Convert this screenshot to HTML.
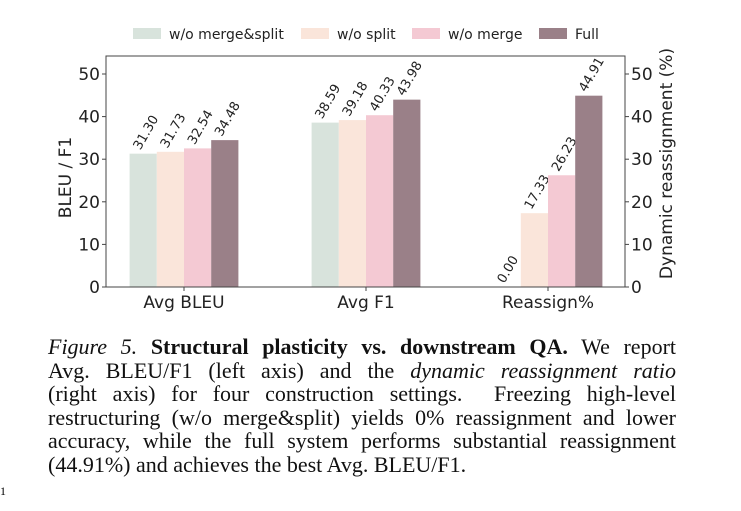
<!DOCTYPE html>
<html><head><meta charset="utf-8"><style>
body{margin:0;width:741px;height:511px;background:#fff;overflow:hidden;position:relative;font-family:"DejaVu Sans","Liberation Sans",sans-serif}
#cap{position:absolute;left:48px;top:335px;width:628px;font-family:"Liberation Serif",serif;font-size:22px;line-height:23.6px;color:#111}
#cap div{text-align:justify;text-align-last:justify;white-space:nowrap}
#cap div.last{text-align-last:left}
</style></head><body>
<svg id="chart" width="741" height="330" style="position:absolute;left:0;top:0" font-family="DejaVu Sans, Liberation Sans, sans-serif"></svg>
<div id="cap">
<div><i>Figure 5.</i> <b>Structural plasticity vs. downstream QA.</b> We report</div>
<div>Avg. BLEU/F1 (left axis) and the <i>dynamic reassignment ratio</i></div>
<div>(right axis) for four construction settings. &nbsp;Freezing high-level</div>
<div>restructuring (w/o merge&amp;split) yields 0% reassignment and lower</div>
<div>accuracy, while the full system performs substantial reassignment</div>
<div class="last">(44.91%) and achieves the best Avg. BLEU/F1.</div>
</div>
<div style="position:absolute;left:0;top:484px;font-family:'Liberation Serif',serif;font-size:12px">1</div>
<script>
const categories=["Avg BLEU","Avg F1","Reassign%"];
const seriesNames=["w/o merge&split","w/o split","w/o merge","Full"];
const s0=[31.30,38.59,0.00];
const s1=[31.73,39.18,17.33];
const s2=[32.54,40.33,26.23];
const s3=[34.48,43.98,44.91];
const yTicks=[0,10,20,30,40,50];
const colors=["#d8e3dc","#fae5da","#f4c9d3","#9a8088"];
const series=[s0,s1,s2,s3];
const NS="http://www.w3.org/2000/svg";
const svg=document.getElementById('chart');
const L=106,R=625,Y0=287,PX=(287-74)/50,Ytop=56;
const y=v=>Y0-v*PX;
const gc=i=>184+i*182;
const bw=27.2;
function mk(t,a,p){const e=document.createElementNS(NS,t);for(const k in a)e.setAttribute(k,a[k]);(p||svg).appendChild(e);return e;}
series.forEach((s,j)=>{s.forEach((v,i)=>{
 const x=gc(i)-2*bw+j*bw;
 const r=mk('rect',{x:x,y:y(v),width:bw,height:Y0-y(v),fill:colors[j]});
 
 
 const cx=x+bw/2,cy=y(v)-3;
 const t=mk('text',{x:cx-3,y:cy,'font-size':13,fill:'#222',transform:`rotate(-60 ${cx-3} ${cy})`});
 t.textContent=v.toFixed(2);
 
 
});});
const fr=mk('rect',{x:L,y:Ytop,width:R-L,height:Y0-Ytop,fill:'none',stroke:'#444','stroke-width':1});


yTicks.forEach(v=>{
 mk('line',{x1:L-4,x2:L,y1:y(v),y2:y(v),stroke:'#444'});
 mk('line',{x1:R,x2:R+4,y1:y(v),y2:y(v),stroke:'#444'});
 const a=mk('text',{x:L-6,y:y(v)+6,'font-size':17,'text-anchor':'end',fill:'#222'});a.textContent=v;
 
 
 const b=mk('text',{x:R+6,y:y(v)+6,'font-size':17,fill:'#222'});b.textContent=v;
 
 
});
categories.forEach((c,i)=>{
 mk('line',{x1:gc(i),x2:gc(i),y1:Y0,y2:Y0+4,stroke:'#444'});
 const t=mk('text',{x:gc(i),y:Y0+21,'font-size':17,'text-anchor':'middle',fill:'#222'});t.textContent=c;
 
 
});
const yl=mk('text',{x:0,y:0,'font-size':17,'text-anchor':'middle',fill:'#222',transform:`translate(71 ${(Ytop+Y0)/2+6}) rotate(-90)`});yl.textContent='BLEU / F1';


const yr=mk('text',{x:0,y:0,'font-size':17,'text-anchor':'middle',fill:'#222',transform:`translate(672 ${(Ytop+Y0)/2-8}) rotate(-90)`});yr.textContent='Dynamic reassignment (%)';


const lx=[133,301,412,539];
seriesNames.forEach((n,j)=>{
 const g=mk('g',{});
 
 
 mk('rect',{x:lx[j],y:28,width:28,height:11,fill:colors[j]},g);
 const t=mk('text',{x:lx[j]+36,y:39,'font-size':14,fill:'#222'},g);t.textContent=n;
});
</script>
</body></html>
